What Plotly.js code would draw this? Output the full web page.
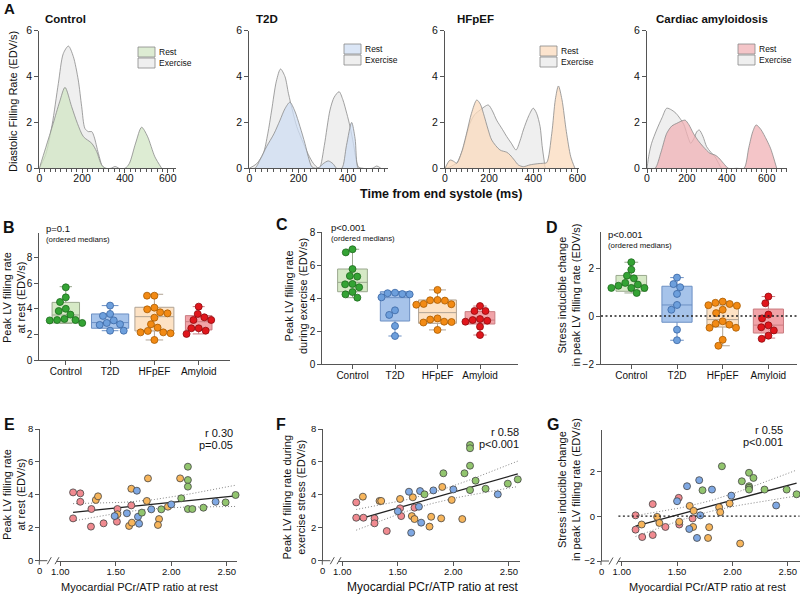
<!DOCTYPE html>
<html><head><meta charset="utf-8">
<script src="https://cdn.plot.ly/plotly-3.0.1.min.js"></script>
<style>body{margin:0;background:#fff}#chart{width:800px;height:594px}</style>
</head><body><div id="chart"></div>
<script>
// ---------------- DATA ----------------
// Panel A: diastolic filling rate profiles (time ms / EDV/s)
const ctrlRestT = [0,30,65,95,120,151,178,206,245,268,291,310,400,420,450,478,505,540,572];
const ctrlRestY = [0,0.9,1.96,2.9,3.53,2.69,1.96,1.38,1.09,0.73,0.15,0,0,0.2,1.1,1.79,1.4,0.5,0];
const ctrlExT = [0,30,60,89,112,136,159,182,198,213,229,245,256,276,296,310,335,354,372];
const ctrlExY = [0,0.6,1.9,3.7,5.0,5.33,4.87,3.85,2.69,1.74,1.6,1.6,1.38,0.65,0.07,0,0,0.08,0];

const t2dRestT = [0,23,45,70,100,125,145,165,185,206,226,240,254,270,285,300,321,340,355,376,395,416,430,443,460];
const t2dRestY = [0,0,0.4,0.94,1.5,2.1,2.6,2.88,2.5,1.82,1.09,0.5,0.07,0,0.05,0.2,0.32,0.2,0,0,1.0,2.0,1.3,0,0];
const t2dExT = [0,30,57,75,91,110,127,145,159,176,193,220,240,260,281,287,305,328,345,365,380,396,410,423,443,460,500,518,535];
const t2dExY = [0,0.2,0.65,1.5,2.54,3.8,4.33,4.0,3.27,2.5,1.82,1.09,0.6,0.22,0,0.03,1.0,2.54,3.1,3.34,3.0,2.4,1.8,1.09,0.07,0,0,0.1,0];

const hfRestT = [0,23,40,53,75,98,120,144,160,174,195,212,249,280,295,315,332,355,385,420,446,461,484,500,514,530,550,570,589];
const hfRestY = [0,0.36,0.3,0.22,0.7,1.53,2.4,2.98,2.8,2.4,1.7,1.23,0.8,0.7,0.58,0.35,0.15,0.07,0.15,0.2,0.22,0.25,1.53,3.0,3.59,3.0,1.6,0.5,0];
const hfExT = [0,20,40,53,80,113,135,159,196,215,234,260,280,300,322,340,355,380,400,415,431,440,449,456,470];
const hfExY = [0,0.05,0.15,0.22,0.8,1.96,2.35,2.54,2.76,2.5,2.1,1.7,1.38,1.1,0.8,1.2,1.67,2.3,2.62,2.4,1.82,1.0,0.36,0,0];

const amyRestT = [0,40,70,99,125,149,170,191,210,232,257,282,316,341,360,383,408,450,486,510,530,547,570,600,620,633,650];
const amyRestY = [0,0,0.7,1.53,1.85,1.96,2.05,2.1,1.9,1.53,1.2,0.94,0.65,0.58,0.45,0.22,0,0,0,0.9,1.6,1.89,1.7,1.23,0.85,0.5,0];
const amyExT = [0,10,23,48,75,99,124,145,165,185,199,210,219,235,250,262,280,299,320,341,360,374,400];
const amyExY = [0,0.6,1.09,1.67,2.2,2.62,2.54,2.4,2.18,1.9,1.53,1.25,1.09,1.3,1.6,1.67,1.4,0.94,0.7,0.5,0.2,0,0];

// Panels B-D categories
const groups = ['Control','T2D','HFpEF','Amyloid'];

// Panel B: peak LV filling rate at rest
const bCtrl = [5.67,4.89,4.53,4.0,3.83,3.55,3.21,3.13,3.13,3.1,2.9];
const bT2D  = [4.25,3.6,3.45,3.1,2.9,2.8,2.75,2.3,2.3];
const bHF   = [5.02,5.02,4.09,3.96,3.73,3.65,3.31,2.8,2.54,2.28,2.17,2.17,2.1,1.58];
const bAmy  = [4.17,3.6,3.34,3.13,3.13,2.49,2.49,2.3,2.05];
const bQ1  = [2.9,2.49,2.28,2.36];
const bMed = [3.52,2.93,3.39,3.0];
const bQ3  = [4.5,3.6,4.12,3.47];
const bLo  = [2.87,2.3,1.58,2.05];
const bHi  = [5.72,4.25,5.13,4.17];

// Panel C: during exercise
const cCtrl = [6.97,6.78,5.77,5.35,5.31,4.86,4.84,4.66,4.37,4.23,4.03];
const cT2D  = [4.33,4.3,4.25,4.23,4.05,3.26,2.98,2.31,1.7];
const cHF   = [4.5,3.89,3.87,3.85,3.65,3.63,3.6,2.77,2.7,2.57,2.55,2.52,2.07];
const cAmy  = [3.52,3.22,3.22,2.73,2.67,2.63,2.57,2.27,1.76];
const cQ1  = [4.39,2.61,2.47,2.43];
const cMed = [4.96,4.03,3.12,2.67];
const cQ3  = [5.77,4.39,3.89,3.18];
const cLo  = [4.03,1.7,2.07,1.76];
const cHi  = [6.97,4.4,4.5,3.52];

// Panel D: stress inducible change
const dCtrl = [2.24,1.93,1.68,1.57,1.38,1.31,1.26,1.17,1.17,1.17,0.96];
const dT2D  = [1.6,1.33,1.2,0.92,0.46,0.26,-0.57,-1.01];
const dHF   = [0.6,0.55,0.5,0.45,0.43,0.26,0.12,-0.22,-0.32,-0.36,-0.49,-0.49,-0.99,-1.24];
const dAmy  = [0.81,0.53,0.06,-0.1,-0.39,-0.47,-0.6,-0.82,-0.95];
const dQ1  = [1.03,-0.26,-0.46,-0.71];
const dMed = [1.28,0.46,-0.15,-0.38];
const dQ3  = [1.69,1.24,0.46,0.29];
const dLo  = [0.96,-1.01,-1.24,-0.92];
const dHi  = [2.24,1.6,0.6,0.81];

// Panel E: PCr/ATP vs rest filling rate
const ePinkX = [1.115,1.18,1.18,1.115,1.28,1.276,1.39,1.515,1.51,1.64];
const ePinkY = [4.15,4.09,3.58,2.57,3.14,2.07,2.27,3.14,2.37,3.36];
const eOrangeX = [1.32,1.34,1.515,1.64,1.79,1.62,1.645,1.78,1.89,1.88,1.97,2.08];
const eOrangeY = [3.69,3.91,2.82,4.37,5.0,2.11,2.31,3.63,2.53,2.17,3.28,5.0];
const eBlueX = [1.49,1.6,1.69,1.70,1.71,1.82,2.0,2.40];
const eBlueY = [2.71,2.88,4.25,2.67,2.25,3.12,3.42,3.58];
const eGreenX = [1.735,1.91,2.09,2.15,2.15,2.15,2.15,2.19,2.29,2.49,2.58];
const eGreenY = [2.92,3.12,3.79,5.71,4.9,4.5,3.14,3.14,3.22,3.54,3.99];

// Panel F: PCr/ATP vs exercise filling rate
const fPinkX = [1.125,1.125,1.19,1.29,1.29,1.40,1.52,1.53,1.65];
const fPinkY = [3.54,2.61,2.61,2.57,2.27,1.8,3.18,2.71,3.22];
const fOrangeX = [1.185,1.335,1.35,1.52,1.635,1.626,1.65,1.80,1.785,1.90,1.89,1.985,2.08];
const fOrangeY = [3.89,3.63,3.63,3.75,3.85,2.71,2.53,2.67,2.07,4.48,2.57,3.69,2.53];
const fBlueX = [1.5,1.60,1.70,1.69,1.71,1.62,1.82,2.0,2.40];
const fBlueY = [3.0,4.19,4.23,3.28,2.31,1.7,4.27,4.33,4.03];
const fGreenX = [1.74,1.91,2.10,2.15,2.15,2.15,2.20,2.15,2.29,2.49,2.58];
const fGreenY = [4.03,5.31,5.31,7.03,6.83,5.77,4.86,4.29,4.37,4.68,4.94];

// Panel G: PCr/ATP vs stress inducible change
const gPinkX = [1.125,1.125,1.185,1.28,1.28,1.395,1.515,1.52,1.64];
const gPinkY = [0.04,-0.6,-0.93,0.54,-0.84,-0.48,0.82,-0.37,-0.1];
const gOrangeX = [1.18,1.32,1.34,1.52,1.614,1.65,1.645,1.79,1.78,1.88,1.89,1.975,2.07];
const gOrangeY = [-0.37,-0.03,-0.3,-0.25,0.46,0.24,-0.48,-0.49,-0.97,0.4,0.18,0.57,-1.22];
const gBlueX = [1.5,1.59,1.70,1.815,1.61,1.68,1.71,1.99,2.395];
const gBlueY = [0.67,1.34,1.61,1.19,-0.57,-0.97,0.04,0.92,0.48];
const gGreenX = [1.73,1.905,2.085,2.15,2.15,2.15,2.15,2.19,2.29,2.49,2.58];
const gGreenY = [1.16,2.23,1.56,1.94,1.34,1.27,1.19,1.71,1.19,1.19,0.98];

// ---------------- HELPERS ----------------
const FONT = 'Arial, "Liberation Sans", sans-serif';
const W = 800, H = 594;
const px = v => v / W;
const py = v => 1 - v / H;
const traces = [];
const annotations = [];
const shapes = [];
const layout = {
  width: W, height: H, margin: {l:0, r:0, t:0, b:0},
  paper_bgcolor: '#fff', plot_bgcolor: 'rgba(0,0,0,0)', showlegend: false,
  font: {family: FONT, color: '#111'}
};
function axBase(extra) {
  return Object.assign({
    showline: true, linecolor: '#555', linewidth: 1, ticks: 'outside', ticklen: 4,
    tickwidth: 1, tickcolor: '#555', showgrid: false, zeroline: false, fixedrange: true,
    tickfont: {size: 9.5, color: '#111', family: FONT}
  }, extra);
}
function ann(text, x, y, o) {
  o = o || {};
  annotations.push({
    text: text, xref: 'paper', yref: 'paper', x: px(x), y: py(y), showarrow: false,
    xanchor: o.xa || 'center', yanchor: o.ya || 'middle', textangle: o.rot || 0,
    align: o.align || 'center',
    font: {family: FONT, size: o.size || 11, color: o.color || '#111'}
  });
}
function pline(x0, y0, x1, y1, color, width, dash) {
  shapes.push({type: 'line', xref: 'paper', yref: 'paper', x0: px(x0), y0: py(y0), x1: px(x1), y1: py(y1),
    line: {color: color || '#555', width: width || 1, dash: dash || 'solid'}});
}

// ---------------- PANEL A ----------------
const aPanels = [
  {title: 'Control', rT: ctrlRestT, rY: ctrlRestY, eT: ctrlExT, eY: ctrlExY,
   fill: 'rgba(210,230,196,0.75)', sw: '#ddecd3', x0: 39.3, x1: 176.3, xmax: 640, tx: 43, leg: [138, 47]},
  {title: 'T2D', rT: t2dRestT, rY: t2dRestY, eT: t2dExT, eY: t2dExY,
   fill: 'rgba(207,222,243,0.75)', sw: '#dbe6f6', x0: 249.3, x1: 388.3, xmax: 565, tx: 254, leg: [344, 44]},
  {title: 'HFpEF', rT: hfRestT, rY: hfRestY, eT: hfExT, eY: hfExY,
   fill: 'rgba(251,219,190,0.75)', sw: '#fce4ce', x0: 445, x1: 578.5, xmax: 605, tx: 455, leg: [540, 46]},
  {title: 'Cardiac amyloidosis', rT: amyRestT, rY: amyRestY, eT: amyExT, eY: amyExY,
   fill: 'rgba(240,178,182,0.75)', sw: '#f4c5c8', x0: 647, x1: 786.7, xmax: 700, tx: 654, leg: [738, 44]}
];
aPanels.forEach((p, i) => {
  const k = i + 1, xa = 'x' + (k === 1 ? '' : k), ya = 'y' + (k === 1 ? '' : k);
  const xkey = 'xaxis' + (k === 1 ? '' : k), ykey = 'yaxis' + (k === 1 ? '' : k);
  layout[xkey] = axBase({domain: [px(p.x0), px(p.x1)], range: [0, p.xmax], anchor: ya,
    tick0: 0, dtick: 200, ticklen: 3.5, ticklabelstandoff: -3, tickfont: {size: 10.5, color: '#111', family: FONT},
    minor: {ticks: 'outside', tick0: 0, dtick: 25, ticklen: 2.5, tickcolor: '#555', showgrid: false}});
  layout[ykey] = axBase({domain: [py(168.3), py(30.7)], range: [0, 6], anchor: xa,
    tickvals: [0, 2, 4, 6], tickfont: {size: 10.5, color: '#111', family: FONT}});
  traces.push({type: 'scatter', mode: 'lines', x: p.eT, y: p.eY, xaxis: xa, yaxis: ya,
    fill: 'tozeroy', fillcolor: '#efefef', line: {color: '#8a8a8a', width: 0.8, shape: 'spline', smoothing: 0.8}});
  traces.push({type: 'scatter', mode: 'lines', x: p.rT, y: p.rY, xaxis: xa, yaxis: ya,
    fill: 'tozeroy', fillcolor: p.fill, line: {color: '#8a8a8a', width: 0.8, shape: 'spline', smoothing: 0.8}});
  ann('<b>' + p.title + '</b>', p.tx, 19, {xa: 'left', size: 11.5});
  // legend swatches
  const lx = p.leg[0], ly = p.leg[1];
  shapes.push({type: 'rect', xref: 'paper', yref: 'paper', x0: px(lx), x1: px(lx + 17), y0: py(ly), y1: py(ly + 10),
    fillcolor: p.sw, line: {color: '#888', width: 0.8}});
  shapes.push({type: 'rect', xref: 'paper', yref: 'paper', x0: px(lx), x1: px(lx + 17), y0: py(ly + 11), y1: py(ly + 21),
    fillcolor: '#efefef', line: {color: '#888', width: 0.8}});
  ann('Rest', lx + 18.5, ly + 5, {xa: 'left', size: 8.5});
  ann('Exercise', lx + 18.5, ly + 16, {xa: 'left', size: 8.5});
});
ann('<b>A</b>', 9, 9, {size: 15});
ann('Diastolic Filling Rate (EDV/s)', 13, 102, {rot: -90, size: 11});
ann('<b>Time from end systole (ms)</b>', 440.5, 194, {size: 12.5});

// ---------------- PANELS B-D (box + points) ----------------
function swarm(vals, sx, sy, d) {
  const placed = [], offs = new Array(vals.length);
  const order = vals.map((v, i) => i).sort((a, b) => vals[b] - vals[a]);
  for (const i of order) {
    const y = vals[i] * sy;
    const forb = [];
    for (const p of placed) {
      const dy = Math.abs(p.y - y);
      if (dy < d) { const w = Math.sqrt(d * d - dy * dy); forb.push([p.x - w, p.x + w]); }
    }
    const cands = [0];
    forb.forEach(f => cands.push(f[0], f[1]));
    cands.sort((a, b) => (Math.abs(a) - Math.abs(b)) || (a - b));
    let x = 0;
    for (const c of cands) {
      if (forb.every(f => c <= f[0] + 1e-6 || c >= f[1] - 1e-6)) { x = c; break; }
    }
    placed.push({x: x, y: y});
    offs[i] = x / sx;
  }
  return offs;
}
const boxStyle = [
  {fill: '#d6e9c6', line: '#9aa88e', pt: '#34a334', ptl: '#1d6a1d'},
  {fill: '#a6c3ea', line: '#6c90c4', pt: '#6d9fdc', ptl: '#3a66a3'},
  {fill: '#fde2c4', line: '#b0a394', pt: '#f28a14', ptl: '#a85a00'},
  {fill: '#f1a3a8', line: '#c97c80', pt: '#e0161c', ptl: '#8e0a0e'}
];
const bdPanels = [
  {k: 5, vals: [bCtrl, bT2D, bHF, bAmy], q1: bQ1, med: bMed, q3: bQ3, lo: bLo, hi: bHi,
   x0: 39.3, x1: 230, c0: 65.8, step: 44.3, yb: 360.3, yt: 233, yr: [0, 9.89], tv: [0, 2, 4, 6, 8],
   widths: [0.62, 0.84, 0.88, 0.6], letter: ['B', 9, 227], p: ['p=0.1', 44, 228.5],
   ytitle: ['Peak LV filling rate<br>at rest (EDV/s)', 14, 298]},
  {k: 6, vals: [cCtrl, cT2D, cHF, cAmy], q1: cQ1, med: cMed, q3: cQ3, lo: cLo, hi: cHi,
   x0: 322.3, x1: 518, c0: 352.5, step: 42.5, yb: 364, yt: 232.3, yr: [0, 8], tv: [0, 2, 4, 6, 8],
   widths: [0.7, 0.69, 0.89, 0.7], letter: ['C', 282, 224], p: ['p<0.001', 329, 227],
   ytitle: ['Peak LV filling rate<br>during exercise (EDV/s)', 296, 296]},
  {k: 7, vals: [dCtrl, dT2D, dHF, dAmy], q1: dQ1, med: dMed, q3: dQ3, lo: dLo, hi: dHi,
   x0: 601, x1: 797, c0: 631.3, step: 45.7, yb: 364, yt: 232, yr: [-2, 3.5], tv: [-2, 0, 2],
   widths: [0.67, 0.66, 0.69, 0.66], letter: ['D', 552, 227], p: ['p<0.001', 606, 234],
   ytitle: ['Stress inducible change<br>in peak LV filling rate (EDV/s)', 568.5, 295], zero: true}
];
bdPanels.forEach(p => {
  const xa = 'x' + p.k, ya = 'y' + p.k;
  const left = -(p.c0 - p.x0) / p.step;
  const right = 3 + (p.x1 - (p.c0 + 3 * p.step)) / p.step;
  layout['xaxis' + p.k] = axBase({domain: [px(p.x0), px(p.x1)], range: [left, right], anchor: ya,
    tickvals: [0, 1, 2, 3], ticktext: groups, ticklabelstandoff: -2, tickfont: {size: 10, color: '#111', family: FONT}});
  layout['yaxis' + p.k] = axBase({domain: [py(p.yb), py(p.yt)], range: p.yr, anchor: xa, tickvals: p.tv,
    tickfont: {size: 10, color: '#111', family: FONT}});
  const sy = (p.yb - p.yt) / (p.yr[1] - p.yr[0]);
  if (p.zero) {
    shapes.push({type: 'line', xref: xa + ' domain', yref: ya, x0: 0, x1: 1, y0: 0, y1: 0,
      line: {color: '#222', width: 1.3, dash: '2px,2.5px'}});
  }
  p.vals.forEach((vals, g) => {
    const st = boxStyle[g];
    traces.push({type: 'box', x: [g], q1: [p.q1[g]], median: [p.med[g]], q3: [p.q3[g]],
      lowerfence: [p.lo[g]], upperfence: [p.hi[g]], xaxis: xa, yaxis: ya, width: p.widths[g],
      whiskerwidth: 0.45, fillcolor: st.fill, line: {color: st.line, width: 1}, boxpoints: false,
      hoverinfo: 'skip'});
    const offs = swarm(vals, p.step, sy, 7.4);
    traces.push({type: 'scatter', mode: 'markers', x: vals.map((v, i) => g + offs[i]), y: vals,
      xaxis: xa, yaxis: ya, cliponaxis: false,
      marker: {size: 7, color: st.pt, line: {color: st.ptl, width: 0.8}}});
  });
  ann('<b>' + p.letter[0] + '</b>', p.letter[1], p.letter[2], {size: 16});
  ann(p.p[0], p.p[1], p.p[2], {xa: 'left', size: 9.5});
  ann('(ordered medians)', p.p[1], p.p[2] + 11.5, {xa: 'left', size: 7.8});
  ann(p.ytitle[0], p.ytitle[1], p.ytitle[2], {rot: -90, size: 11});
});

// ---------------- PANELS E-G (scatter + regression) ----------------
const scatCol = ['#f08a90', '#f7b55b', '#7fa8e3', '#92c56e'];
function regress(xs, ys) {
  const n = xs.length;
  const mx = xs.reduce((a, b) => a + b, 0) / n, my = ys.reduce((a, b) => a + b, 0) / n;
  let sxx = 0, sxy = 0;
  for (let i = 0; i < n; i++) { sxx += (xs[i] - mx) ** 2; sxy += (xs[i] - mx) * (ys[i] - my); }
  const b = sxy / sxx, a = my - b * mx;
  let sse = 0;
  for (let i = 0; i < n; i++) sse += (ys[i] - a - b * xs[i]) ** 2;
  const s = Math.sqrt(sse / (n - 2)), t = 2.02;
  const lo = Math.min(...xs), hi = Math.max(...xs);
  const gx = [], fit = [], up = [], dn = [];
  for (let j = 0; j <= 40; j++) {
    const x = lo + (hi - lo) * j / 40;
    const yh = a + b * x, se = s * Math.sqrt(1 / n + (x - mx) ** 2 / sxx);
    gx.push(x); fit.push(yh); up.push(yh + t * se); dn.push(yh - t * se);
  }
  return {gx, fit, up, dn};
}
const efgPanels = [
  {k: 8, sets: [[ePinkX, ePinkY], [eOrangeX, eOrangeY], [eBlueX, eBlueY], [eGreenX, eGreenY]],
   stub: 39.3, xd: [57, 236.7], xr: [0.97, 2.59], yb: 560.7, yt: 429, yr: [0, 8], tv: [0, 2, 4, 6, 8],
   letter: ['E', 9, 424], r: ['r 0.30', 'p=0.05', 235, 433],
   ytitle: ['Peak LV filling rate<br>at rest (EDV/s)', 14, 495], xt: [139.5, 11]},
  {k: 9, sets: [[fPinkX, fPinkY], [fOrangeX, fOrangeY], [fBlueX, fBlueY], [fGreenX, fGreenY]],
   stub: 322.3, xd: [339, 520], xr: [0.97, 2.6], yb: 560.7, yt: 429, yr: [0, 8], tv: [0, 2, 4, 6, 8],
   letter: ['F', 281, 424], r: ['r 0.58', 'p<0.001', 520.5, 432],
   ytitle: ['Peak LV filling rate during<br>exercise stress (EDV/s)', 293.5, 497], xt: [432.5, 12]},
  {k: 10, sets: [[gPinkX, gPinkY], [gOrangeX, gOrangeY], [gBlueX, gBlueY], [gGreenX, gGreenY]],
   stub: 601, xd: [618.4, 799.5], xr: [0.97, 2.606], yb: 561, yt: 430, yr: [-2, 3.85], tv: [-2, 0, 2],
   letter: ['G', 553, 424], r: ['r 0.55', 'p<0.001', 785, 430],
   ytitle: ['Stress inducible change<br>in peak LV filling rate (EDV/s)', 569, 490], xt: [707, 11], zero: true}
];
efgPanels.forEach(p => {
  const xa = 'x' + p.k, ya = 'y' + p.k;
  layout['xaxis' + p.k] = axBase({domain: [px(p.xd[0]), px(p.xd[1])], range: p.xr, anchor: ya,
    tickvals: [1, 1.5, 2, 2.5], ticktext: ['1.00', '1.50', '2.00', '2.50'], ticklabelstandoff: -2});
  layout['yaxis' + p.k] = axBase({domain: [py(p.yb), py(p.yt)], range: p.yr, anchor: 'free',
    position: px(p.stub), tickvals: p.tv});
  // axis break stub at 0
  pline(p.stub, p.yb, p.stub + 8, p.yb, '#555', 1);
  pline(p.stub, p.yb, p.stub, p.yb + 4, '#555', 1);
  pline(p.stub + 8, p.yb + 3.5, p.stub + 12, p.yb - 3.5, '#555', 1);
  pline(p.xd[0] - 2, p.yb + 3.5, p.xd[0] + 2, p.yb - 3.5, '#555', 1);
  ann('0', p.stub, p.yb + 10, {size: 9.5});
  if (p.zero) {
    shapes.push({type: 'line', xref: xa + ' domain', yref: ya, x0: 0, x1: 1, y0: 0, y1: 0,
      line: {color: '#222', width: 1.3, dash: '2px,2.5px'}});
  }
  const allX = [], allY = [];
  p.sets.forEach(s => { allX.push(...s[0]); allY.push(...s[1]); });
  const rg = regress(allX, allY);
  traces.push({type: 'scatter', mode: 'lines', x: rg.gx, y: rg.up, xaxis: xa, yaxis: ya,
    line: {color: '#777', width: 0.9, dash: '1px,2px'}});
  traces.push({type: 'scatter', mode: 'lines', x: rg.gx, y: rg.dn, xaxis: xa, yaxis: ya,
    line: {color: '#777', width: 0.9, dash: '1px,2px'}});
  traces.push({type: 'scatter', mode: 'lines', x: rg.gx, y: rg.fit, xaxis: xa, yaxis: ya,
    line: {color: '#222', width: 1.3}});
  p.sets.forEach((s, g) => {
    traces.push({type: 'scatter', mode: 'markers', x: s[0], y: s[1], xaxis: xa, yaxis: ya,
      cliponaxis: false, marker: {size: 7, color: scatCol[g], line: {color: '#444', width: 0.8}}});
  });
  ann('<b>' + p.letter[0] + '</b>', p.letter[1], p.letter[2], {size: 16});
  ann(p.r[0], p.r[2], p.r[3], {xa: 'right', size: 11});
  ann(p.r[1], p.r[2], p.r[3] + 12, {xa: 'right', size: 11});
  ann(p.ytitle[0], p.ytitle[1], p.ytitle[2], {rot: -90, size: 11});
  ann('Myocardial PCr/ATP ratio at rest', p.xt[0], 587, {size: p.xt[1]});
});

layout.annotations = annotations;
layout.shapes = shapes;
Plotly.newPlot('chart', traces, layout, {displayModeBar: false, staticPlot: true});
</script>
</body></html>
